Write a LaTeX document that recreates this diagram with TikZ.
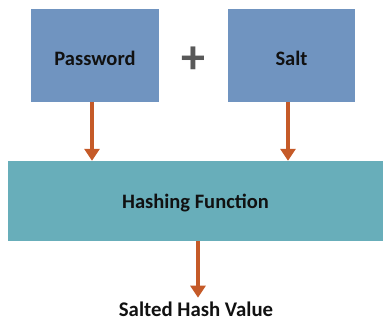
\documentclass[tikz,border=0pt]{standalone}
\usepackage{fontspec}
\setmainfont{Carlito}
\usetikzlibrary{arrows.meta}
\definecolor{boxblue}{HTML}{7094C0}
\definecolor{boxteal}{HTML}{68AEBA}
\definecolor{arrowred}{HTML}{C55A28}
\definecolor{plusgray}{HTML}{595959}
\definecolor{textdark}{HTML}{111111}
% lower a label a little inside its box without changing the box size
\newcommand{\lowered}[1]{\raisebox{-2.5pt}[\height][\depth]{#1}}
\tikzset{
  label font/.style={font=\bfseries\fontsize{20.5}{24}\selectfont, text=textdark},
  inbox/.style={fill=boxblue, draw=none, minimum width=128pt, minimum height=93pt, inner sep=0pt, label font},
  hashbox/.style={fill=boxteal, draw=none, minimum width=375pt, minimum height=80pt, inner sep=0pt, label font},
  flow/.style={draw=arrowred, line width=4pt, -{Triangle[width=15pt,length=12pt]}},
}
\begin{document}
\begin{tikzpicture}[x=1pt,y=-1pt]
  \useasboundingbox (0,0) rectangle (383,320);
  \node[inbox] (pw) at (95,55.5) {\lowered{Password}};
  \node[inbox, minimum width=127pt] (salt) at (291.5,55.5) {\lowered{Salt}};
  \node[font=\bfseries\fontsize{48}{48}\selectfont, text=plusgray, inner sep=0pt] (plus) at (193.5,60) {+};
  \node[hashbox] (hash) at (195.5,201) {\lowered{Hashing Function}};
  \node[font=\bfseries\fontsize{20.8}{24}\selectfont, text=textdark, inner sep=0pt, text depth=0pt, anchor=base] (out) at (196,316.5) {Salted Hash Value};
  \draw[flow] (pw.south -| 92,0) -- (hash.north -| 92,0);
  \draw[flow] (salt.south -| 288,0) -- (hash.north -| 288,0);
  \draw[flow] (hash.south -| 198,0) -- ([yshift=4pt]out.north -| 198,0);
\end{tikzpicture}
\end{document}
